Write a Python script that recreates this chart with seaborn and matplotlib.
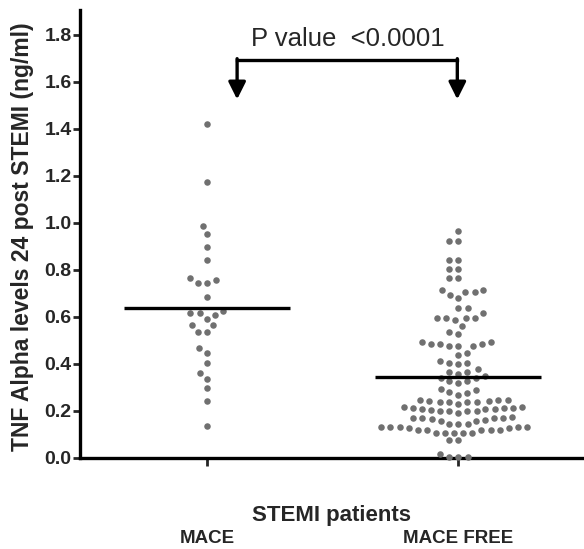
import matplotlib
matplotlib.use("Agg")
import matplotlib.pyplot as plt
import seaborn as sns
import numpy as np
import pandas as pd

# ---- data ----
groups = ["MACE", "MACE FREE"]

mace_values = [
    1.421, 1.173, 0.985, 0.952, 0.896, 0.842, 0.756, 0.744, 0.744, 0.766,
    0.684, 0.627, 0.617, 0.593, 0.606, 0.617, 0.565, 0.536, 0.536, 0.565,
    0.447, 0.466, 0.405, 0.362, 0.337, 0.296, 0.242, 0.136,
]

mace_free_values = [
    0.964, 0.921, 0.921, 0.844, 0.844, 0.805, 0.805, 0.766, 0.766,
    0.716, 0.705, 0.681, 0.695, 0.705, 0.716, 0.636, 0.636,
    0.596, 0.596, 0.586, 0.596, 0.596, 0.617, 0.563, 0.529, 0.535,
    0.486, 0.486, 0.476, 0.494, 0.494, 0.476, 0.476, 0.486,
    0.447, 0.437, 0.412, 0.405, 0.398, 0.405, 0.377,
    0.366, 0.348, 0.358, 0.366, 0.341, 0.327, 0.320, 0.327, 0.341,
    0.294, 0.277, 0.270, 0.280, 0.289,
    0.246, 0.218, 0.157, 0.117, 0.246, 0.218, 0.157, 0.117,
    0.238, 0.207, 0.143, 0.117, 0.238, 0.207, 0.143, 0.117,
    0.238, 0.207, 0.143, 0.117,
    0.214, 0.231, 0.239, 0.242, 0.245, 0.242, 0.214, 0.214,
    0.192, 0.199, 0.199, 0.199, 0.206, 0.199,
    0.174, 0.164, 0.168, 0.168, 0.168, 0.168,
    0.126, 0.126,
    0.132, 0.108, 0.132, 0.108, 0.132, 0.108, 0.132, 0.108, 0.132, 0.108,
    0.160, 0.075, 0.075, 0.004, 0.004, 0.004, 0.016,
]

y_ticks = [0.0, 0.2, 0.4, 0.6, 0.8, 1.0, 1.2, 1.4, 1.6, 1.8]
p_text = "P value  <0.0001"
y_label = "TNF Alpha levels 24 post STEMI (ng/ml)"
x_label = "STEMI patients"

df = pd.DataFrame({
    "group": [groups[0]] * len(mace_values) + [groups[1]] * len(mace_free_values),
    "value": mace_values + mace_free_values,
})

sns.set_style("ticks")
plt.rcParams["font.family"] = ["Liberation Sans", "DejaVu Sans"]

fig = plt.figure(figsize=(5.84, 5.49), dpi=100)
ax = fig.add_axes([80 / 584, 91 / 549, 504 / 584, 448 / 549])

sns.swarmplot(
    data=df, x="group", y="value", order=groups, ax=ax,
    color="#707070", size=4.7, linewidth=1.6, edgecolor=(1, 1, 1, 0),
    clip_on=False, warn_thresh=1.0,
)

means = df.groupby("group")["value"].mean().reindex(groups)
for i, m in enumerate(means):
    ax.hlines(m, i - 0.33, i + 0.33, color="black", lw=2.4, zorder=5)

ax.set_xlim(-0.505, 1.5)
ax.set_ylim(0, 1.905)
ax.set_yticks(y_ticks)
ax.set_yticklabels([f"{t:.1f}" for t in y_ticks], fontsize=14, fontweight="bold")
ax.set_xticks(range(len(groups)))
ax.set_xticklabels(groups, fontsize=13.5, fontweight="bold")
ax.tick_params(axis="x", pad=46, length=6, width=2)
ax.tick_params(axis="y", pad=1, length=5, width=2)

for s in ["top", "right"]:
    ax.spines[s].set_visible(False)
for s in ["left", "bottom"]:
    ax.spines[s].set_linewidth(2.4)
    ax.spines[s].set_color("black")

ax.set_xlabel(x_label, fontsize=16, fontweight="bold")
ax.xaxis.set_label_coords(0.5, -0.105)
ax.set_ylabel(y_label, fontsize=16.5, fontweight="bold")
ax.yaxis.set_label_coords(-0.092, 0.493)

# significance bracket
bx0, bx1, by, btip = 0.12, 0.996, 1.694, 1.525
ax.plot([bx0, bx1], [by, by], color="black", lw=2.4, solid_capstyle="projecting")
for bx in (bx0, bx1):
    ax.annotate("", xy=(bx, btip), xytext=(bx, by + 0.004),
                arrowprops=dict(arrowstyle="-|>", lw=2.4, color="black",
                                mutation_scale=26, shrinkA=0, shrinkB=0))
ax.text(0.56, 1.783, p_text, fontsize=18.5, ha="center", va="center")

fig.savefig("out.png", dpi=100)
